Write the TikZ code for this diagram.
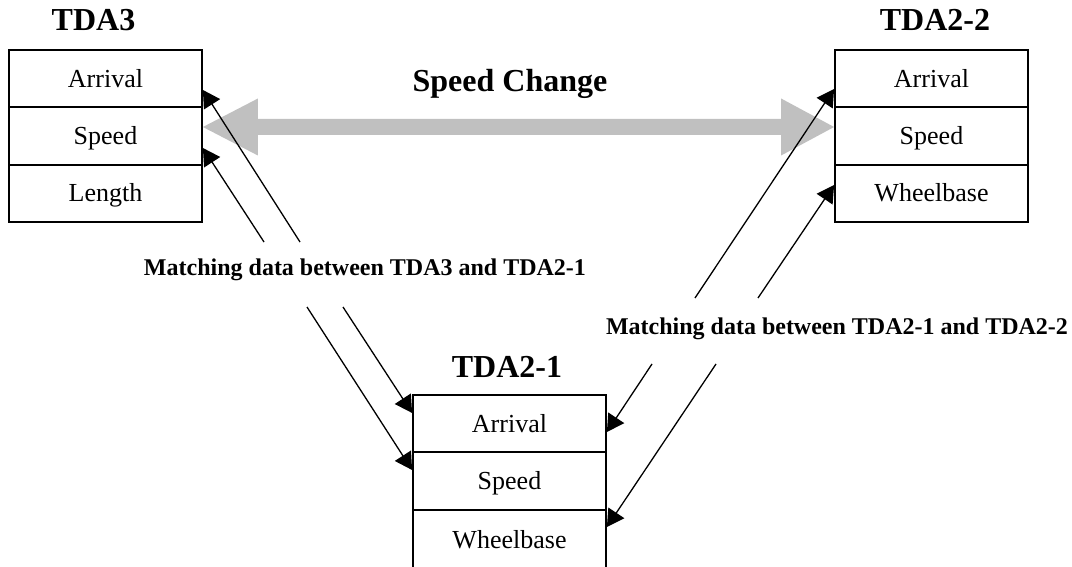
\documentclass[tikz,border=0pt]{standalone}
\usepackage{fontspec}
\setmainfont{Liberation Serif}
\usetikzlibrary{arrows.meta,calc}
\definecolor{arrowgray}{HTML}{C0C0C0}
\begin{document}
\begin{tikzpicture}[x=1pt,y=-1pt,
  cell/.style={draw, line width=1.8pt, minimum width=193pt, minimum height=57.33pt,
    inner sep=0pt, font=\fontsize{26}{30}\selectfont, text height=17.2pt, text depth=0pt},
  title/.style={font=\fontsize{32}{36}\selectfont\bfseries, anchor=base, inner sep=0pt},
  note/.style={font=\fontsize{24}{28}\selectfont\bfseries, anchor=base, inner sep=0pt},
  link/.style={line width=1.3pt, -{Triangle[length=17pt,width=19pt]}}
]
\useasboundingbox (0,0) rectangle (1072,567);

% TDA3 box
\node[title] (tA) at (93.5,31) {TDA3};
\node[cell] (a-arr) at (105.5,78.67) {Arrival};
\node[cell] (a-spd) at (105.5,136) {Speed};
\node[cell] (a-len) at (105.5,193.33) {Length};

% TDA2-2 box
\node[title] (tC) at (935,31) {TDA2-2};
\node[cell] (c-arr) at (931.5,78.67) {Arrival};
\node[cell] (c-spd) at (931.5,136) {Speed};
\node[cell] (c-whl) at (931.5,193.33) {Wheelbase};

% TDA2-1 box
\node[title] (tB) at (507,377) {TDA2-1};
\node[cell] (b-arr) at (509.5,423.67) {Arrival};
\node[cell] (b-spd) at (509.5,481) {Speed};
\node[cell, minimum height=60pt] (b-whl) at (509.5,539.67) {Wheelbase};

% Speed change double arrow
\node[title] (sc) at (510,92) {Speed Change};
\coordinate (gl) at ([yshift=9pt]a-spd.east);
\coordinate (gr) at ([yshift=9pt]c-spd.west);
\fill[arrowgray] (gl) -- ++(55,-28.5) -- ++(0,20.5) -- ($(gr)+(-53,-8)$) -- ++(0,-20.5)
  -- (gr) -- ++(-53,28.5) -- ++(0,-20.5) -- ($(gl)+(55,8)$) -- ++(0,20.5) -- cycle;

% Labels
\node[note] (m1) at (365,275) {Matching data between TDA3 and TDA2-1};
\node[note] (m2) at (837,334) {Matching data between TDA2-1 and TDA2-2};

% free ends
\coordinate (p1) at (300,242);
\coordinate (p2) at (264,242);
\coordinate (p3) at (343,307);
\coordinate (p4) at (307,307);
\coordinate (q1) at (652,364);
\coordinate (q2) at (716,364);
\coordinate (q3) at (695,298);
\coordinate (q4) at (758,298);

\draw[link] (p1) -- ([yshift=-11.3pt]a-arr.east);
\draw[link] (p2) -- ([yshift=-12pt]a-spd.east);
\draw[link] (p3) -- ([yshift=10.7pt]b-arr.west);
\draw[link] (p4) -- ([yshift=11pt]b-spd.west);
\draw[link] (q1) -- ([yshift=-8.3pt]b-arr.east);
\draw[link] (q2) -- ([yshift=12.7pt]b-whl.east);
\draw[link] (q3) -- ([yshift=-10.3pt]c-arr.west);
\draw[link] (q4) -- ([yshift=8.3pt]c-whl.west);
\end{tikzpicture}
\end{document}
